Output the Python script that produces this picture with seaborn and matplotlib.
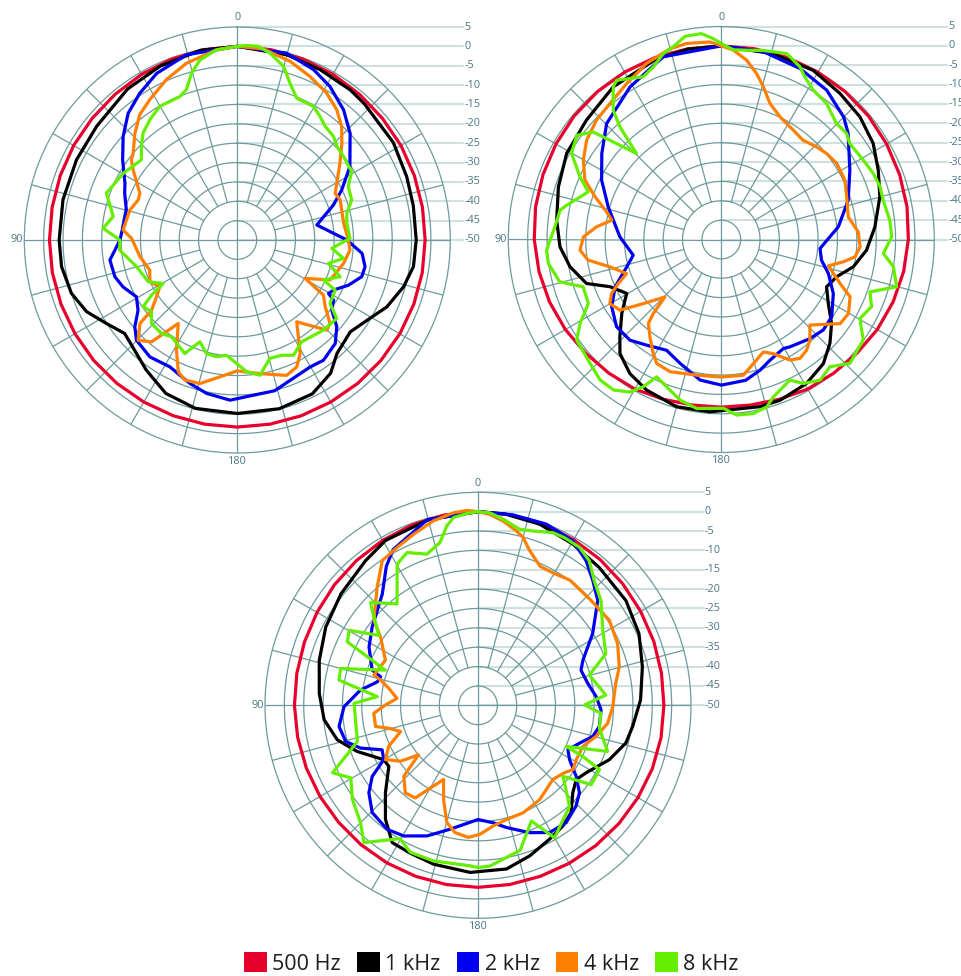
import numpy as np
import matplotlib
matplotlib.use("Agg")
import matplotlib.pyplot as plt
import seaborn as sns
from matplotlib.patches import Patch

sns.set_theme(style="white")
plt.rcParams["font.family"] = ["Open Sans", "DejaVu Sans"]

# ---------------------------------------------------------------- labels
FREQ_LABELS = ["500 Hz", "1 kHz", "2 kHz", "4 kHz", "8 kHz"]
FREQ_COLORS = ["#e8002d", "#000000", "#0000f0", "#ff7f00", "#66ee00"]
RING_LEVELS = [5, 0, -5, -10, -15, -20, -25, -30, -35, -40, -45, -50]
RING_LABELS = ["5", "0", "-5", "-10", "-15", "-20", "-25", "-30", "-35",
               "-40", "-45", "-50"]
ANGLE_LABELS = ["0", "90", "180"]

# ---------------------------------------------------------------- data
# (angle in degrees counter-clockwise from the front, level in dB)
P1_500 = [(0, 0), (10, -0.1), (20, -0.3), (30, -0.6), (40, -0.9), (50, -1.1),
          (60, -1.2), (70, -1.35), (80, -1.45), (90, -1.5), (100, -1.5),
          (110, -1.55), (120, -1.6), (130, -1.6), (140, -1.65), (150, -1.7),
          (160, -1.7), (170, -1.7), (180, -1.7), (190, -1.7), (200, -1.7),
          (210, -1.7), (220, -1.65), (230, -1.6), (240, -1.55), (250, -1.5),
          (260, -1.5), (270, -1.5), (280, -1.45), (290, -1.35), (300, -1.2),
          (310, -1.1), (320, -0.9), (330, -0.6), (340, -0.3), (350, -0.1)]
P1_1K = [(0, 0), (11, -0.1), (24, -0.9), (36, -1.8), (51, -3.3), (63.5, -3.6),
         (77, -3.8), (90, -4.0), (98.6, -4.1), (107.8, -5.0), (115.4, -6.9),
         (122.5, -9.9), (129.7, -12.2), (137, -11.1), (145, -9.0),
         (155, -6.3), (166, -5.2), (180, -5.2), (194, -5.1), (206, -5.8),
         (215, -8.0), (221.3, -11.0), (230.9, -12.4), (239.5, -10.2),
         (245.9, -7.7), (254.3, -5.4), (261.4, -4.0), (270, -3.8),
         (281, -3.7), (290.5, -3.3), (302, -2.5), (317, -1.9), (323, -1.5),
         (334, -1.1), (345, -0.5)]
P1_2K = [(0, 0), (15.3, -0.4), (25.8, -2.2), (33.6, -4.5), (40.7, -6.8),
         (47.8, -10.2), (55.1, -13.9), (63.2, -17.5), (67.4, -18.5),
         (74.8, -20.3), (83.3, -20.3), (90, -19.7), (94.7, -18.3),
         (98.9, -16.7), (106.7, -17.0), (112.3, -18.1), (119.4, -20.1),
         (125.3, -18.6), (130.3, -15.3), (134.8, -13.3), (143.2, -12.3),
         (152, -12.9), (161.7, -11.0), (168.7, -9.6), (177.4, -8.6),
         (193.9, -9.9), (209.8, -12.2), (215.6, -11.8), (223.4, -13.2),
         (228.9, -15.9), (233.4, -19.6), (238, -20.7), (239.6, -22.7),
         (242.5, -22.0), (247.9, -19.0), (253.6, -16.5), (258.2, -16.3),
         (263.9, -17.6), (270, -21.7), (280.7, -29.1), (290, -23.6),
         (295.6, -20.1), (303.1, -15.3), (313.4, -9.9), (320.8, -6.6),
         (328.9, -3.7), (335.9, -1.8), (345.2, -0.1)]
P1_4K = [(0, 0), (6.2, -0.6), (16, -2.5), (23.8, -4.7), (32, -7.3),
         (37.9, -9.0), (43.8, -11.8), (50.2, -15.0), (52.9, -15.7),
         (56.1, -17.6), (64.4, -22.1), (68, -22.4), (74.4, -21.2),
         (85, -20.4), (89.1, -22.7), (99.7, -24.5), (109, -26.1),
         (115.5, -25.0), (121.1, -26.6), (125.1, -24.5), (129.3, -21.4),
         (130.6, -16.9), (135.3, -13.6), (139.9, -15.6), (144.7, -23.6),
         (151.1, -17.5), (155.9, -12.7), (159.5, -11.4), (165.4, -11.7),
         (172.8, -14.4), (180, -16.2), (189.6, -15.0), (200, -12.8),
         (205.1, -13.8), (209, -16.5), (216, -23.9), (224.8, -17.2),
         (228, -17.8), (232.8, -21.5), (237.4, -23.6), (240.5, -29.9),
         (246.7, -23.9), (257.6, -21.9), (264.9, -20.8), (270, -21.3),
         (278.9, -22.2), (291.3, -21.5), (295.5, -22.0), (306.8, -16.9),
         (312.8, -13.2), (317.4, -10.2), (322.6, -7.7), (328.7, -5.6),
         (336, -3.8), (343.5, -1.9), (352.2, -0.2)]
P1_8K = [(0, 0), (6.2, -0.6), (11.7, -2.5), (15.3, -5.3), (18.7, -9.0),
         (21.8, -10.1), (27.3, -10.2), (30.1, -10.1), (36, -11.6),
         (41.4, -13.2), (45.7, -15.4), (50.1, -17.7), (59.7, -15.9),
         (70.3, -14.1), (79.3, -17.4), (85, -15.2), (90, -19.7),
         (94.9, -19.5), (104.8, -23.1), (115.1, -24.6), (120.4, -27.8),
         (122.7, -23.7), (125.3, -20.2), (129.9, -21.1), (134.2, -19.1),
         (141, -18.9), (145.8, -19.8), (155.2, -17.7), (159.8, -22.0),
         (164.9, -19.6), (170, -19.4), (174.7, -20.1), (184.1, -15.9),
         (189.5, -14.6), (195.4, -18.3), (201.1, -18.1), (206, -16.9),
         (212.3, -18.9), (223.7, -17.8), (231.7, -17.3), (235.7, -21.0),
         (242.9, -21.6), (245.1, -25.5), (250.3, -21.8), (255.6, -25.7),
         (260.2, -22.2), (265, -25.5), (270.8, -20.9), (278.7, -21.4),
         (283.7, -20.9), (289.3, -18.7), (295.7, -18.2), (300.9, -15.6),
         (308.2, -15.1), (313.2, -14.7), (317.1, -13.5), (322.3, -12.9),
         (326.2, -11.6), (330.3, -10.3), (337.3, -10.3), (341.4, -7.3),
         (345.1, -3.6), (350.1, -1.0), (353.8, 0.3), (357.3, 0.3)]

P2_500 = [(0, 0), (10, 0), (20, 0), (30, -0.1), (40, -0.2), (50, -0.4),
          (60, -0.7), (70, -1.0), (80, -1.3), (90, -1.7), (100, -2.2),
          (110, -2.8), (120, -3.5), (130, -4.3), (140, -4.9), (150, -5.4),
          (160, -6.1), (170, -6.6), (180, -6.7), (190, -6.6), (200, -6.1),
          (210, -5.4), (220, -4.9), (230, -4.3), (240, -3.5), (250, -2.8),
          (260, -2.2), (270, -1.7), (280, -1.3), (290, -1.0), (300, -0.7),
          (310, -0.4), (320, -0.2), (330, -0.1), (340, 0), (350, 0)]
P2_1K = [(0, 0), (10, -0.1), (20, -0.5), (35.3, -1.7), (48.5, -3.5),
         (60.9, -4.3), (72.1, -5.8), (83.3, -7.2), (92.6, -8.3),
         (100.2, -10.3), (108.1, -13.4), (113, -18.8), (119.7, -21.9),
         (122.2, -20.6), (126.6, -18.0), (133.8, -13.7), (138.4, -10.6),
         (145.7, -8.1), (153.6, -6.6), (165, -5.3), (176.2, -5.4),
         (193, -5.7), (200.1, -5.8), (210.6, -6.8), (219.4, -8.5),
         (226.3, -11.2), (232.7, -14.2), (239.1, -17.8), (245.8, -20.2),
         (252.1, -18.7), (258.3, -15.2), (265.8, -12.4), (274.7, -10.2),
         (285.1, -7.6), (293.8, -5.7), (302.3, -3.6), (311.5, -2.2),
         (320.9, -1.4), (331.5, -0.3), (344.4, -0.2)]
P2_2K = [(0, 0), (17.6, -0.5), (30.9, -4.1), (44.7, -7.9), (54.3, -12.0),
         (63.6, -15.5), (73.9, -19.6), (88.5, -23.8), (100.1, -26.9),
         (106.1, -24.6), (114, -20.0), (121.5, -16.8), (129.8, -14.8),
         (137.8, -14.9), (144.8, -16.6), (153.7, -18.1), (161.6, -16.3),
         (171.4, -13.3), (180, -12.4), (189.8, -13.1), (196.5, -14.8),
         (202, -16.4), (209.6, -17.6), (212.6, -17.1), (221.6, -15.7),
         (228.4, -14.8), (235, -15.2), (244.3, -17.9), (252.4, -21.0),
         (258.4, -23.6), (264.8, -24.4), (276.2, -19.6), (287.2, -15.7),
         (298.3, -12.3), (309.9, -7.3), (315, -5.3), (324.8, -2.8),
         (335.3, -1.4), (347.4, -0.3)]
P2_4K = [(0, 0), (3.3, 1.1), (10, 1.4), (15, 1.0), (23, -0.6), (31.2, -2.9),
         (39.3, -4.6), (46.3, -5.4), (53.6, -6.8), (60.1, -8.9),
         (66.5, -11.6), (71.3, -15.6), (76.4, -19.5), (80, -21.3),
         (84.2, -17.6), (88.9, -14.4), (94.3, -13.4), (98.8, -15.2),
         (103.8, -20.4), (109.8, -24.0), (113.1, -21.1), (116.2, -18.4),
         (119.9, -16.8), (124.9, -18.1), (129.4, -23.9), (135.5, -29.2),
         (137.4, -24.1), (139, -21.3), (143.8, -18.8), (149.2, -15.7),
         (152.5, -13.9), (158.8, -13.4), (169.7, -14.4), (180, -14.5),
         (189.2, -14.5), (194.5, -16.9), (200.5, -19.0), (204.5, -17.6),
         (209.6, -14.2), (213.5, -13.2), (217.6, -13.9), (221.4, -15.4),
         (226, -18.2), (234.7, -12.4), (239.8, -12.0), (246, -13.6),
         (249.7, -17.3), (256.2, -21.5), (259.6, -18.0), (262.6, -15.2),
         (267, -14.1), (273.2, -14.6), (280.1, -16.7), (288.8, -15.8),
         (295.6, -14.6), (303.4, -14.3), (309.2, -14.9), (314.2, -15.7),
         (320.5, -16.8), (326.6, -16.2), (334.4, -14.9), (340.3, -12.7),
         (344.6, -9.1), (348, -6.2), (352, -3.2), (356.4, -1.0)]
P2_8K = [(0, 0.6), (2.3, 1.9), (5.5, 3.4), (10.1, 3.3), (14, 1.3),
         (17.3, 0.3), (21.5, -2.1), (25.6, -3.4), (29.6, -2.2),
         (33.3, -0.8), (35.3, -1.7), (39.9, -6.5), (42, -10.9),
         (44.6, -18.8), (50, -6.8), (54.2, -4.0), (60.1, -5.4),
         (66.1, -10.1), (70.3, -13.5), (77.5, -9.1), (79.7, -7.7),
         (85.6, -6.9), (93.5, -4.8), (97.9, -4.9), (104.7, -6.9),
         (108.9, -12.3), (115.7, -11.9), (120.7, -7.6), (124.8, -4.5),
         (133.4, -3.4), (139.2, -2.1), (144.4, -2.2), (149.1, -4.1),
         (152.1, -7.0), (154.8, -10.8), (161.2, -8.9), (165.6, -7.2),
         (171.7, -5.9), (180.7, -6.4), (185, -4.5), (190.4, -4.3),
         (195.2, -5.2), (198.3, -7.2), (206, -9.6), (209.7, -7.2),
         (215.1, -5.6), (220.5, -6.8), (226.1, -3.9), (234.7, -5.1),
         (240.3, -8.8), (245.9, -7.5), (250.6, -9.3), (254.9, -3.1),
         (261, -5.0), (265.1, -8.0), (270.9, -6.0), (276.5, -6.2),
         (283.6, -7.0), (288.4, -6.8), (293.5, -7.2), (299.2, -8.0),
         (306.7, -8.6), (310.2, -7.6), (315.2, -7.8), (322.2, -5.6),
         (328.4, -4.7), (332.8, -2.8), (335.5, -1.0), (340.6, 0.9),
         (347.5, 0.0), (352.4, -0.7), (356.4, -0.9)]

P3_500 = [(0, 0), (10, -0.1), (20, -0.4), (30, -0.8), (40, -1.2), (50, -1.6),
          (60, -2.0), (70, -2.3), (80, -2.5), (90, -2.6), (100, -2.7),
          (110, -2.8), (120, -2.9), (130, -3.0), (140, -3.0), (150, -3.0),
          (160, -3.0), (170, -3.0), (180, -3.0), (190, -3.0), (200, -3.0),
          (210, -2.9), (220, -2.7), (230, -2.5), (240, -2.3), (250, -2.1),
          (260, -2.0), (270, -2.0), (280, -1.9), (290, -1.7), (300, -1.5),
          (310, -1.2), (320, -0.9), (330, -0.6), (340, -0.3), (350, -0.1)]
P3_1K = [(0, 0), (15, -0.4), (29.3, -1.2), (37.9, -2.7), (50.9, -4.4),
         (62.8, -5.8), (74.2, -7.4), (85.7, -8.9), (95.4, -10.1),
         (103.8, -12.6), (110.9, -16.6), (120, -21.9), (124.4, -22.1),
         (133.4, -17.1), (140.9, -12.1), (148, -8.2), (155.3, -8.0),
         (164.4, -7.4), (177.3, -6.8), (189.9, -7.1), (199, -8.9),
         (208.1, -10.8), (215.1, -11.9), (220.9, -13.3), (227.3, -16.7),
         (232.9, -18.2), (238, -17.1), (247.5, -13.3), (255.7, -10.6),
         (262.2, -9.7), (271.9, -8.0), (283.2, -6.4), (294, -4.5),
         (305.3, -3.2), (318.7, -2.6), (329.5, -1.7), (341.2, -0.6),
         (352, -0.1)]
P3_2K = [(0, 0), (15.2, -0.3), (28.6, -4.2), (33.4, -7.0), (40.7, -12.1),
         (53.5, -16.0), (61.9, -18.1), (71.6, -21.2), (73.7, -23.8),
         (76.9, -23.3), (82.6, -19.4), (90.6, -15.4), (98.7, -13.7),
         (105.3, -14.6), (110, -17.7), (114.9, -22.7), (120, -21.9),
         (123.9, -17.1), (128.7, -13.9), (135.4, -11.1), (143.8, -10.3),
         (150.4, -11.2), (158.7, -13.8), (167.3, -17.2), (180, -20.5),
         (187.4, -19.4), (193.1, -17.6), (202.1, -14.5), (209.4, -12.3),
         (216.9, -12.1), (224.2, -13.7), (229.2, -15.4), (234.1, -18.7),
         (239.3, -22.5), (243.7, -24.1), (249.6, -22.0), (254.8, -19.3),
         (260.1, -18.2), (267.8, -18.2), (274.2, -19.4), (281.3, -21.1),
         (288.8, -21.9), (293.3, -20.5), (302, -15.1), (311.2, -8.9),
         (317.4, -6.2), (323.2, -3.4), (330, -1.0), (339.3, 0), (349.7, 0)]
P3_4K = [(0, 0), (3.3, 0.4), (7.3, 0.1), (13.6, -1.0), (20.6, -2.8),
         (27.1, -4.2), (33.5, -5.2), (40.5, -9.9), (50.8, -15.3),
         (55, -19.3), (64, -23.4), (73.8, -22.0), (75.5, -24.0),
         (79.3, -26.6), (85.1, -29.0), (89.8, -26.1), (94.4, -23.0),
         (101.7, -23.0), (104.4, -26.2), (108.7, -28.9), (114.7, -24.6),
         (120.4, -22.3), (125.8, -25.3), (129.8, -30.0), (133.7, -23.5),
         (140.3, -20.6), (145.9, -21.1), (155.1, -28.9), (159.9, -24.1),
         (165.1, -18.7), (169.8, -16.6), (175.8, -15.8), (180.9, -16.7),
         (187.2, -18.6), (194, -19.6), (202.8, -19.9), (213.2, -20.9),
         (225.3, -22.8), (232, -21.7), (235.9, -20.4), (241, -21.0),
         (248.6, -20.9), (255.2, -18.5), (262.1, -16.2), (269.4, -15.2),
         (279, -14.0), (285.2, -12.2), (293.8, -10.6), (302.9, -9.6),
         (313.2, -10.2), (323.7, -9.9), (330.3, -10.7), (335.9, -10.7),
         (341.5, -7.9), (345, -5.1), (347.6, -3.9), (352.2, -2.0),
         (356.4, -0.6)]
P3_8K = [(0, 0), (3.4, -0.4), (7.4, -1.1), (9.9, -3.0), (13.1, -6.8),
         (18.7, -8.8), (24.9, -6.5), (29.8, -8.0), (38.6, -16.5),
         (46.2, -11.6), (48.1, -13.3), (54.8, -18.7), (59.8, -11.5),
         (64.1, -12.5), (69.2, -24.4), (75, -13.3), (79.7, -13.5),
         (85.1, -23.9), (89.1, -18.0), (98.3, -18.1), (106.7, -17.5),
         (114.9, -8.6), (119.7, -12.2), (126.8, -9.5), (135, -7.1),
         (140.3, -3.9), (149.6, -10.1), (155.3, -8.2), (164.1, -8.2),
         (177.2, -8.5), (180, -8.1), (184.3, -8.4), (196.2, -11.0),
         (204.8, -17.1), (210, -10.5), (222.2, -14.8), (230.1, -21.4),
         (235, -14.3), (242.1, -14.5), (244, -19.9), (245, -24.9),
         (250.4, -14.5), (259.3, -18.1), (266.3, -18.2), (270.2, -22.5),
         (274.6, -16.9), (285.2, -20.2), (292, -14.4), (301, -12.4),
         (310.4, -8.3), (317, -6.0), (322.4, -2.9), (327.3, -1.5),
         (332.7, -1.3), (336.5, -1.4), (342.5, -2.8), (346.7, -3.3),
         (352.3, -1.5), (356.5, -0.2)]

# ---------------------------------------------------------------- layout
W, H = 962, 976
R_PX = 213            # radius of the +5 dB ring in pixels
GRID = "#6e9a9c"
GRID_LIGHT = "#cfe0e0"
LABEL_COLOR = "#4a7586"

PANELS = [
    {"center": (237.3, 240.0), "curves": [P1_500, P1_1K, P1_2K, P1_4K, P1_8K]},
    {"center": (721.3, 239.5), "curves": [P2_500, P2_1K, P2_2K, P2_4K, P2_8K]},
    {"center": (478.0, 705.3), "curves": [P3_500, P3_1K, P3_2K, P3_4K, P3_8K]},
]

fig = plt.figure(figsize=(W / 100, H / 100), dpi=100)
fig.patch.set_facecolor("white")


def draw_panel(panel):
    cx, cy = panel["center"]
    rect = [(cx - R_PX) / W, (H - cy - R_PX) / H, 2 * R_PX / W, 2 * R_PX / H]
    ax = fig.add_axes(rect, projection="polar")
    ax.set_theta_zero_location("N")
    ax.set_theta_direction(1)
    ax.set_ylim(-50, 5)
    ax.grid(False)
    ax.set_xticks([])
    ax.set_yticks([])
    ax.set_facecolor("white")
    ax.spines["polar"].set_color(GRID)
    ax.spines["polar"].set_linewidth(0.9)

    # concentric rings every 5 dB
    full = np.linspace(0, 2 * np.pi, 721)
    for v in RING_LEVELS[1:-1]:
        ax.plot(full, np.full_like(full, v), color=GRID, lw=0.9, zorder=1)
    # radial spokes every 15 degrees
    for a in range(0, 360, 15):
        start = -50 if a % 90 == 0 else -40
        t = np.deg2rad(a)
        ax.plot([t, t], [start, 5], color=GRID, lw=0.9, zorder=1)

    # level scale on the right, each label tied to the top of its ring
    lx = 0.5 + 226.0 / (2 * R_PX)
    inv = ax.transAxes.inverted()
    for v, lab in zip(RING_LEVELS, RING_LABELS):
        x0, y0 = inv.transform(ax.transData.transform((0.0, v)))
        ax.plot([x0, lx], [y0, y0], transform=ax.transAxes, clip_on=False,
                color=GRID_LIGHT, lw=1.5, zorder=0.5)
        ax.text(lx + 0.002, y0, lab, transform=ax.transAxes, ha="left",
                va="center", fontsize=7.8, color=LABEL_COLOR)

    # angle labels
    ax.text(0.5, 1 + 9 / (2 * R_PX), ANGLE_LABELS[0], transform=ax.transAxes,
            ha="center", va="center", fontsize=7.8, color=LABEL_COLOR)
    ax.text(-1.5 / (2 * R_PX), 0.5, ANGLE_LABELS[1], transform=ax.transAxes,
            ha="right", va="center", fontsize=7.8, color=LABEL_COLOR)
    ax.text(0.5, -8 / (2 * R_PX), ANGLE_LABELS[2], transform=ax.transAxes,
            ha="center", va="center", fontsize=7.8, color=LABEL_COLOR)

    # directivity curves, closed around the full circle
    for i, (pts, col) in enumerate(zip(panel["curves"], FREQ_COLORS)):
        deg = [p[0] for p in pts] + [pts[0][0] + 360.0]
        lvl = [p[1] for p in pts] + [pts[0][1]]
        sns.lineplot(x=np.deg2rad(deg), y=lvl, ax=ax, sort=False,
                     estimator=None, color=col, linewidth=2.3, zorder=3 + i)
    ax.set_xlabel("")
    ax.set_ylabel("")
    ax.set_ylim(-50, 5)
    return ax


for panel in PANELS:
    draw_panel(panel)

handles = [Patch(facecolor=c, edgecolor="none") for c in FREQ_COLORS]
fig.legend(handles, FREQ_LABELS, loc="center", ncol=5,
           bbox_to_anchor=(491.5 / W, 12.5 / H), frameon=False,
           fontsize=15.5, handlelength=1.05, handleheight=1.05,
           handletextpad=0.25, columnspacing=0.75, borderpad=0,
           labelcolor="#1e1e1e")

fig.savefig("out.png", dpi=100, facecolor="white")
